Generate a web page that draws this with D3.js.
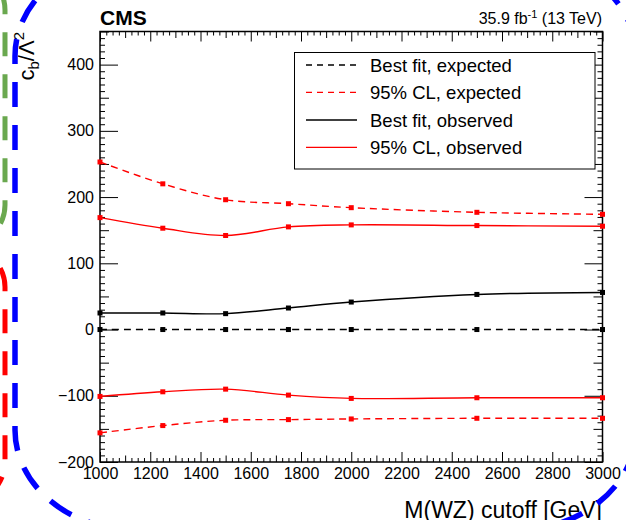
<!DOCTYPE html>
<html>
<head>
<meta charset="utf-8">
<script src="https://cdn.jsdelivr.net/npm/d3@7"></script>
<style>
  html, body { margin: 0; padding: 0; background: #fff; }
  svg { display: block; font-family: "Liberation Sans", Arial, Helvetica, sans-serif; }
</style>
</head>
<body>
<svg id="chart" width="626" height="520"></svg>
<script>
// ---------------- data ----------------
const cutoffs = [1000, 1250, 1500, 1750, 2000, 2500, 3000];
const bestFitExpected = [0, 0, 0, 0, 0, 0, 0];
const clExpectedUpper = [253, 220, 196, 190, 184, 177, 174];
const clExpectedLower = [-156, -145, -137, -136, -135, -134, -134];
const bestFitObserved = [25, 25, 24, 32.5, 41.5, 53, 56];
const clObservedUpper = [169, 153, 142, 155, 158, 157, 156];
const clObservedLower = [-101, -94, -90, -99, -104, -103, -103];

const xTicks = [1000, 1200, 1400, 1600, 1800, 2000, 2200, 2400, 2600, 2800, 3000];
const yTicks = [-200, -100, 0, 100, 200, 300, 400];
const legendLabels = ["Best fit, expected", "95% CL, expected", "Best fit, observed", "95% CL, observed"];

// ---------------- layout ----------------
const svg = d3.select("#chart");
const L = 100, R = 602.5, T = 31.5, B = 462;
const x = d3.scaleLinear().domain([1000, 3000]).range([L, R]);
const y = d3.scaleLinear().domain([-200, 450]).range([B, T]);

const minorX = d3.range(1000, 3000.1, 25).filter(v => v % 100 !== 0);
const midX = d3.range(1100, 3000, 200);
const minorY = d3.range(-200, 450.1, 10).filter(v => v % 50 !== 0);
const midY = d3.range(-150, 450.1, 100);

function clean(g) { g.select(".domain").remove(); g.selectAll("line").attr("stroke", "#000").attr("stroke-width", 1); }

// bottom axis
const gb = svg.append("g").attr("transform", `translate(0,${B})`);
gb.call(d3.axisBottom(x).tickValues(xTicks).tickSize(-10).tickPadding(6).tickFormat(d3.format("d")));
gb.append("g").call(d3.axisBottom(x).tickValues(midX).tickSize(-6.5).tickFormat(""));
gb.append("g").call(d3.axisBottom(x).tickValues(minorX).tickSize(-4).tickFormat(""));
gb.selectAll("g").each(function(){ clean(d3.select(this)); });
clean(gb);
gb.selectAll("text").attr("font-size", 16).attr("fill", "#000").attr("font-family", "Liberation Sans, Arial, sans-serif");

// top axis
const gt = svg.append("g").attr("transform", `translate(0,${T})`);
gt.call(d3.axisTop(x).tickValues(xTicks).tickSize(-10).tickFormat(""));
gt.append("g").call(d3.axisTop(x).tickValues(midX).tickSize(-6.5).tickFormat(""));
gt.append("g").call(d3.axisTop(x).tickValues(minorX).tickSize(-4).tickFormat(""));
gt.selectAll("g").each(function(){ clean(d3.select(this)); });
clean(gt);

// left axis
const fmtY = v => (v < 0 ? "\u2212" + Math.abs(v) : String(v));
const gl = svg.append("g").attr("transform", `translate(${L},0)`);
gl.call(d3.axisLeft(y).tickValues(yTicks).tickSize(-18).tickPadding(6).tickFormat(fmtY));
gl.append("g").call(d3.axisLeft(y).tickValues(midY).tickSize(-9).tickFormat(""));
gl.append("g").call(d3.axisLeft(y).tickValues(minorY).tickSize(-5).tickFormat(""));
gl.selectAll("g").each(function(){ clean(d3.select(this)); });
clean(gl);
gl.selectAll("text").attr("font-size", 16).attr("fill", "#000").attr("font-family", "Liberation Sans, Arial, sans-serif");

// right axis
const gr = svg.append("g").attr("transform", `translate(${R},0)`);
gr.call(d3.axisRight(y).tickValues(yTicks).tickSize(-18).tickFormat(""));
gr.append("g").call(d3.axisRight(y).tickValues(midY).tickSize(-9).tickFormat(""));
gr.append("g").call(d3.axisRight(y).tickValues(minorY).tickSize(-5).tickFormat(""));
gr.selectAll("g").each(function(){ clean(d3.select(this)); });
clean(gr);

// frame
svg.append("rect").attr("x", L).attr("y", T).attr("width", R - L).attr("height", B - T)
  .attr("fill", "none").attr("stroke", "#000").attr("stroke-width", 1.5);

// ---------------- series ----------------
const series = [
  { vals: clObservedUpper, color: "#ff0000", dash: null },
  { vals: clObservedLower, color: "#ff0000", dash: null },
  { vals: clExpectedUpper, color: "#ff0000", dash: "7,5" },
  { vals: clExpectedLower, color: "#ff0000", dash: "7,5" },
  { vals: bestFitObserved, color: "#000000", dash: null },
  { vals: bestFitExpected, color: "#000000", dash: "7,5" }
];
const line = d3.line().x((d, i) => x(cutoffs[i])).y(d => y(d)).curve(d3.curveCatmullRom.alpha(0.5));
series.forEach(s => {
  svg.append("path").datum(s.vals).attr("d", line)
    .attr("fill", "none").attr("stroke", s.color).attr("stroke-width", 1.4)
    .attr("stroke-dasharray", s.dash);
  svg.append("g").selectAll("rect").data(s.vals).join("rect")
    .attr("x", (d, i) => x(cutoffs[i]) - 2.5).attr("y", d => y(d) - 2.5)
    .attr("width", 5).attr("height", 5).attr("fill", s.color);
});

// ---------------- legend ----------------
const lg = svg.append("g");
lg.append("rect").attr("x", 294.5).attr("y", 52.5).attr("width", 300.5).attr("height", 116.5)
  .attr("fill", "#fff").attr("stroke", "#000").attr("stroke-width", 1);
const legendStyles = [
  { color: "#000", dash: "6,5" },
  { color: "#ff0000", dash: "6,5" },
  { color: "#000", dash: null },
  { color: "#ff0000", dash: null }
];
const rowY = [65, 92.3, 120, 147.3];
legendLabels.forEach((lab, i) => {
  lg.append("line").attr("x1", 306).attr("x2", 357).attr("y1", rowY[i]).attr("y2", rowY[i])
    .attr("stroke", legendStyles[i].color).attr("stroke-width", 1.3)
    .attr("stroke-dasharray", legendStyles[i].dash);
  lg.append("text").attr("x", 370).attr("y", rowY[i] + 6.6).attr("font-size", 18.5)
    .attr("fill", "#000").text(lab);
});

// ---------------- labels ----------------
svg.append("text").attr("x", 100).attr("y", 25).attr("font-size", 21).attr("font-weight", "bold")
  .attr("fill", "#000").text("CMS");

const lumi = svg.append("text").attr("x", 602).attr("y", 23.5).attr("font-size", 16)
  .attr("text-anchor", "end").attr("fill", "#000");
lumi.append("tspan").text("35.9 fb");
lumi.append("tspan").attr("font-size", 11).attr("dy", -6).text("-1");
lumi.append("tspan").attr("dy", 6).text(" (13 TeV)");

svg.append("text").attr("x", 602).attr("y", 518).attr("font-size", 23).attr("text-anchor", "end")
  .attr("fill", "#000").text("M(WZ) cutoff [GeV]");

const yt = svg.append("text").attr("transform", "translate(34,32) rotate(-90)")
  .attr("text-anchor", "end").attr("font-size", 22).attr("fill", "#000");
yt.append("tspan").text("c");
yt.append("tspan").attr("font-size", 15).attr("dy", 5).text("b");
yt.append("tspan").attr("dy", -5).text("/\u039B");
yt.append("tspan").attr("font-size", 15).attr("dy", -10).text("2");

// ---------------- overlays ----------------
svg.append("rect").attr("x", -200).attr("y", -30).attr("width", 205).attr("height", 275)
  .attr("rx", 40).attr("ry", 40).attr("fill", "none").attr("stroke", "#6aa84f")
  .attr("stroke-width", 5).attr("stroke-dasharray", "24,18");
svg.append("rect").attr("x", -200).attr("y", 247).attr("width", 205).attr("height", 255)
  .attr("rx", 40).attr("ry", 40).attr("fill", "none").attr("stroke", "#ff0000")
  .attr("stroke-width", 5).attr("stroke-dasharray", "24,18");
svg.append("rect").attr("x", 15).attr("y", -44).attr("width", 621).attr("height", 574)
  .attr("rx", 120).attr("ry", 100).attr("fill", "none").attr("stroke", "#0000ff")
  .attr("stroke-width", 5.5).attr("stroke-dasharray", "25,18");
</script>
</body>
</html>
